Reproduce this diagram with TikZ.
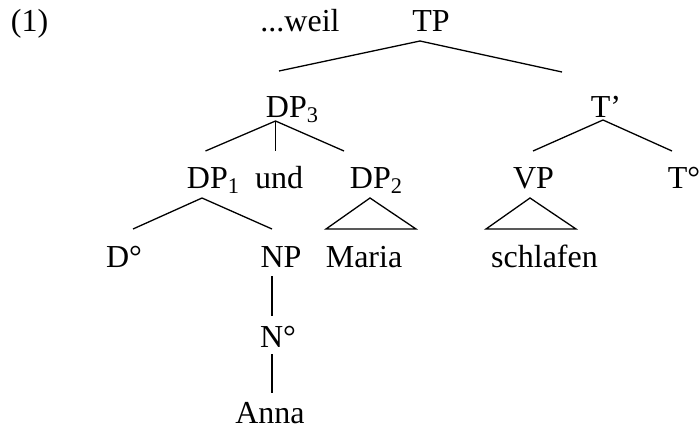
\documentclass[tikz,border=0pt]{standalone}
\usepackage{fontspec}
\setmainfont{Liberation Serif}
\tikzstyle{cat}=[anchor=base, inner sep=0pt, font=\fontsize{16}{19}\selectfont]
\tikzset{branch/.style={line width=.65pt}}
\tikzset{roof/.style={line width=.65pt, line join=miter}}

\begin{document}
\begin{tikzpicture}[x=0.5pt,y=-0.5pt]
  \useasboundingbox (0,0) rectangle (700,428);
  \draw (29.5,32) node[cat] (ex) {(1)};
  \draw (300,32) node[cat] (weil) {...weil};
  \draw (431,32) node[cat] (TP) {TP};

  \draw (292.5,117) node[cat] (DP3) {DP\textsubscript{3}};
  \draw (606,117) node[cat] (Tbar) {T’};

  \draw (213.5,188) node[cat] (DP1) {DP\textsubscript{1}};
  \draw (279,188) node[cat] (und) {und};
  \draw (376.5,188) node[cat] (DP2) {DP\textsubscript{2}};
  \draw (533.5,188) node[cat] (VP) {VP};
  \draw (684,188) node[cat] (T0) {T°};

  \draw (124,267) node[cat] (D0) {D°};
  \draw (281,267) node[cat] (NP) {NP};
  \draw (364,267) node[cat] (Maria) {Maria};
  \draw (544.5,267) node[cat] (schlafen) {schlafen};

  \draw (278,347) node[cat] (N0) {N°};
  \draw (270,423) node[cat] (Anna) {Anna};

  %% TP
  \draw[branch] ([shift={(-13.5,-46)}]DP3.base) -- ([shift={(-11,9)}]TP.base) -- ([shift={(-44,-45)}]Tbar.base);
  %% DP3
  \draw[branch] ([shift={(-8,-37)}]DP1.base) -- ([shift={(-17,4)}]DP3.base) -- ([shift={(-32.5,-37)}]DP2.base);
  \draw[branch] ([shift={(-17,4)}]DP3.base) -- ([shift={(-3.5,-37)}]und.base);
  %% T'
  \draw[branch] ([shift={(-0.5,-37)}]VP.base) -- ([shift={(-3,3)}]Tbar.base) -- ([shift={(-12,-37)}]T0.base);
  %% DP1
  \draw[branch] ([shift={(9,-38)}]D0.base) -- ([shift={(-11.5,10)}]DP1.base) -- ([shift={(-9,-38)}]NP.base);
  %% roofs
  \draw[roof] ([shift={(-6.5,10)}]DP2.base) -- ([shift={(-38,-38)}]Maria.base) -- ([shift={(52,-38)}]Maria.base) -- cycle;
  \draw[roof] ([shift={(-3.5,10)}]VP.base) -- ([shift={(-58.5,-38)}]schlafen.base) -- ([shift={(31.5,-38)}]schlafen.base) -- cycle;
  %% NP
  \draw[branch] ([shift={(-9,9)}]NP.base) -- ([shift={(-6,-31)}]N0.base);
  \draw[branch] ([shift={(-6,7)}]N0.base) -- ([shift={(2,-30)}]Anna.base);
\end{tikzpicture}
\end{document}
